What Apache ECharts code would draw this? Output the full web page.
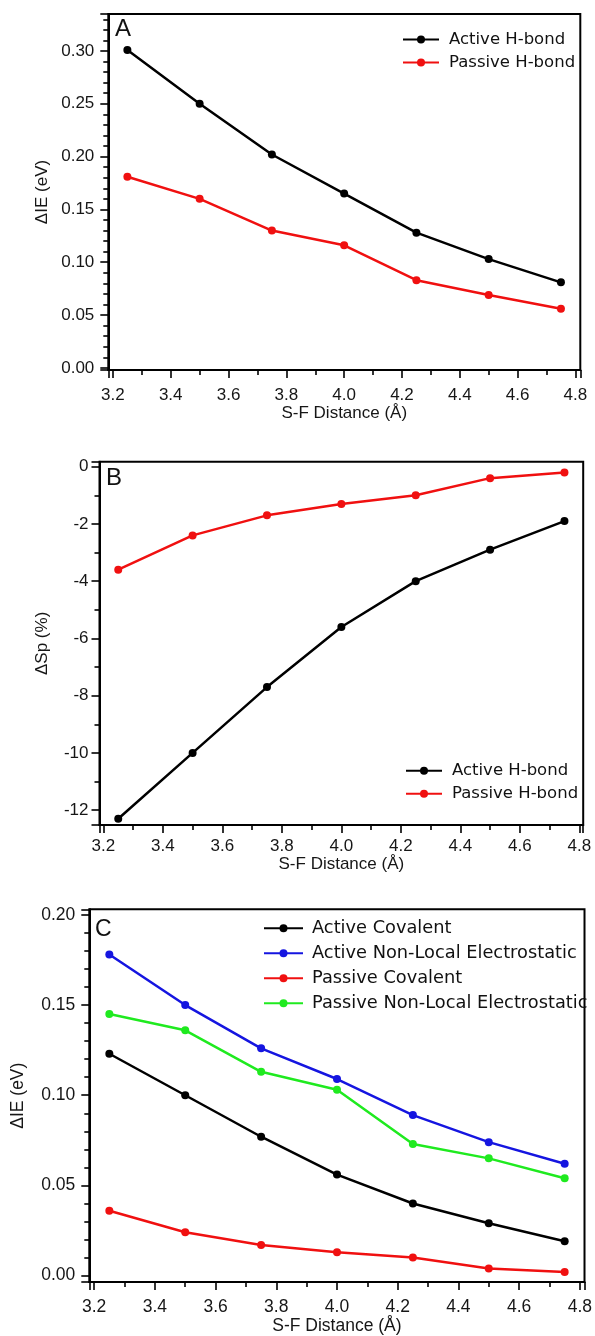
<!DOCTYPE html>
<html>
<head>
<meta charset="utf-8">
<script src="https://cdn.jsdelivr.net/npm/echarts@6/dist/echarts.min.js"></script>
<style>
  html, body { margin: 0; padding: 0; background: #ffffff; }
  #chart { width: 595px; height: 1336px; }
</style>
</head>
<body>
<div id="chart"></div>
<script>
// S-F distances (Å) shared by all three panels
const distances = [3.25, 3.5, 3.75, 4.0, 4.25, 4.5, 4.75];

// Panel A: change in ionization energy (eV)
const activeHbondIE  = [0.301, 0.250, 0.202, 0.165, 0.128, 0.103, 0.081];
const passiveHbondIE = [0.181, 0.160, 0.130, 0.116, 0.083, 0.069, 0.056];

// Panel B: change in Sp (%)
const activeHbondSp  = [-12.3, -10.0, -7.7, -5.6, -4.0, -2.9, -1.9];
const passiveHbondSp = [-3.6, -2.4, -1.7, -1.3, -1.0, -0.4, -0.2];

// Panel C: decomposition of the ionization energy change (eV)
const activeCovalent   = [0.123, 0.100, 0.077, 0.056, 0.040, 0.029, 0.019];
const activeNonLocal   = [0.178, 0.150, 0.126, 0.109, 0.089, 0.074, 0.062];
const passiveCovalent  = [0.036, 0.024, 0.017, 0.013, 0.010, 0.004, 0.002];
const passiveNonLocal  = [0.145, 0.136, 0.113, 0.103, 0.073, 0.065, 0.054];

const panelLetters = ['A', 'B', 'C'];
const xTitle = 'S-F Distance (Å)';
const yTitles = ['ΔIE (eV)', 'ΔSp (%)', 'ΔIE (eV)'];

const AXIS_FONT = 'Liberation Sans, Arial, Helvetica, sans-serif';
const LEGEND_FONT = 'DejaVu Sans, Verdana, sans-serif';
const INK = '#161616';

const pairs = ys => distances.map((x, i) => [x, ys[i]]);

function lineSeries(name, ys, color, idx) {
  return {
    type: 'line', name: name, data: pairs(ys),
    xAxisIndex: idx, yAxisIndex: idx,
    color: color,
    symbol: 'circle', symbolSize: 8, showAllSymbol: true,
    lineStyle: { width: 2.5, color: color },
    itemStyle: { color: color },
    emphasis: { disabled: true },
    z: 3
  };
}

function xAxis(idx, min, max, fontSize, margin, nameGap) {
  return {
    type: 'value', gridIndex: idx, min: min, max: max,
    minInterval: 0.2, maxInterval: 0.2,
    name: xTitle, nameLocation: 'middle', nameGap: nameGap,
    nameTextStyle: { fontFamily: AXIS_FONT, fontSize: fontSize, color: INK },
    axisLine: { show: true, onZero: false, lineStyle: { color: '#000', width: 2 } },
    axisTick: { show: true, inside: false, length: 8, lineStyle: { color: '#000', width: 1.6 } },
    minorTick: { show: true, splitNumber: 2, length: 5, lineStyle: { color: '#000', width: 1.6 } },
    axisLabel: {
      fontFamily: AXIS_FONT, fontSize: fontSize, color: INK, margin: margin,
      showMinLabel: false, showMaxLabel: false,
      formatter: v => v.toFixed(1)
    },
    splitLine: { show: false }
  };
}

function yAxis(idx, min, max, step, minorSplit, digits, fontSize, margin, nameGap) {
  return {
    type: 'value', gridIndex: idx, min: min, max: max,
    minInterval: step, maxInterval: step,
    name: yTitles[idx], nameLocation: 'middle', nameGap: nameGap,
    nameTextStyle: { fontFamily: AXIS_FONT, fontSize: fontSize, color: INK },
    axisLine: { show: true, onZero: false, lineStyle: { color: '#000', width: 2 } },
    axisTick: { show: true, inside: false, length: 8, lineStyle: { color: '#000', width: 1.6 } },
    minorTick: { show: true, splitNumber: minorSplit, length: 5, lineStyle: { color: '#000', width: 1.6 } },
    axisLabel: {
      fontFamily: AXIS_FONT, fontSize: fontSize, color: INK, margin: margin,
      showMinLabel: false, showMaxLabel: false,
      formatter: v => (digits === 0 ? String(Math.round(v)) : v.toFixed(digits))
    },
    splitLine: { show: false }
  };
}

function legend(names, left, top, width, fontSize, lineHeight, gap, textGap) {
  return {
    data: names, orient: 'vertical', left: left, top: top,
    padding: 0,
    itemWidth: width, itemHeight: 10, itemGap: gap,
    selectedMode: false,
    textStyle: {
      fontFamily: LEGEND_FONT, fontSize: fontSize, color: '#111',
      lineHeight: lineHeight, padding: [0, 0, 0, textGap]
    }
  };
}

function letter(text, x, y, size) {
  return {
    type: 'text', left: x, top: y, z: 10,
    style: { text: text, fontFamily: AXIS_FONT, fontSize: size, fill: '#111' }
  };
}

const gridStyle = { show: true, borderColor: '#000', borderWidth: 2, backgroundColor: 'transparent' };

const option = {
  animation: false,
  backgroundColor: '#ffffff',
  grid: [
    Object.assign({ left: 108.3, top: 14, width: 472, height: 356 }, gridStyle),
    Object.assign({ left: 99.5, top: 461.7, width: 483.7, height: 363.3 }, gridStyle),
    Object.assign({ left: 89.3, top: 909.3, width: 496.7, height: 380 }, gridStyle)
  ],
  xAxis: [
    xAxis(0, 3.184, 4.817, 17, 17, 35),
    xAxis(1, 3.187, 4.813, 17, 13, 30),
    xAxis(2, 3.184, 4.8154, 17.5, 16, 32.5)
  ],
  yAxis: [
    yAxis(0, -0.002, 0.335, 0.05, 5, 2, 17, 14, 57),
    yAxis(1, -12.52, 0.175, 2, 2, 0, 17, 11, 49),
    yAxis(2, -0.0036, 0.2031, 0.05, 5, 2, 17.5, 14, 62)
  ],
  legend: [
    legend(['Active H-bond', 'Passive H-bond'], 402, 29.5, 36, 16.5, 20, 3, 5),
    legend(['Active H-bond', 'Passive H-bond'], 405, 760.7, 36, 16.5, 20, 3, 5),
    legend(['Active Covalent', 'Active Non-Local Electrostatic',
            'Passive Covalent', 'Passive Non-Local Electrostatic'], 263, 917.8, 39, 17.8, 21, 4, 4)
  ],
  graphic: [
    letter(panelLetters[0], 115, 17, 24),
    letter(panelLetters[1], 106, 466, 24),
    letter(panelLetters[2], 95, 918, 23)
  ],
  series: [
    lineSeries('Active H-bond', activeHbondIE, '#000000', 0),
    lineSeries('Passive H-bond', passiveHbondIE, '#f01010', 0),
    lineSeries('Active H-bond', activeHbondSp, '#000000', 1),
    lineSeries('Passive H-bond', passiveHbondSp, '#f01010', 1),
    lineSeries('Active Covalent', activeCovalent, '#000000', 2),
    lineSeries('Active Non-Local Electrostatic', activeNonLocal, '#1515e0', 2),
    lineSeries('Passive Covalent', passiveCovalent, '#f01010', 2),
    lineSeries('Passive Non-Local Electrostatic', passiveNonLocal, '#1fea1f', 2)
  ]
};

const chart = echarts.init(document.getElementById('chart'), null, { renderer: 'canvas' });
chart.setOption(option);
</script>
</body>
</html>
